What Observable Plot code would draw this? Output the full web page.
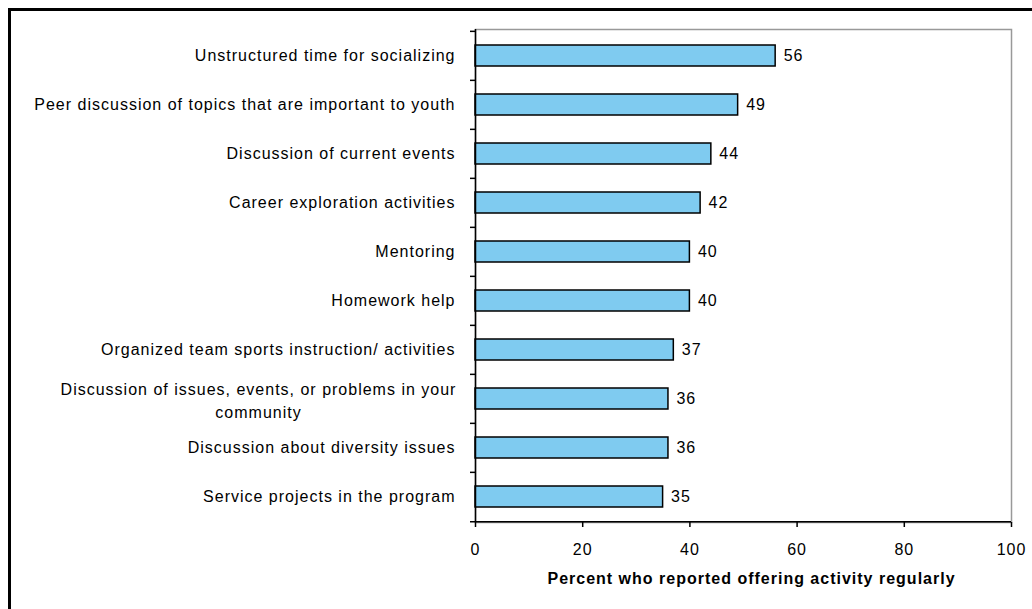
<!DOCTYPE html>
<html>
<head>
<meta charset="utf-8">
<script src="https://cdn.jsdelivr.net/npm/d3@7"></script>
<script src="https://cdn.jsdelivr.net/npm/@observablehq/plot@0.6"></script>
<style>
  html, body { margin: 0; padding: 0; background: white; overflow: hidden; }
  #wrap { position: relative; width: 1032px; height: 609px; overflow: hidden; }
  #border { position: absolute; left: 8px; top: 8px; width: 1100px; height: 700px; border: 3px solid black; box-sizing: border-box; pointer-events: none; }
  #chart { position: absolute; left: 0; top: 0; }
</style>
</head>
<body>
<div id="wrap">
  <div id="chart"></div>
  <div id="border"></div>
</div>
<script>
const categories = [
  "Unstructured time for socializing",
  "Peer discussion of topics that are important to youth",
  "Discussion of current events",
  "Career exploration activities",
  "Mentoring",
  "Homework help",
  "Organized team sports instruction/ activities",
  "Discussion of issues, events, or problems in your community",
  "Discussion about diversity issues",
  "Service projects in the program"
];
const values = [56, 49, 44, 42, 40, 40, 37, 36, 36, 35];
const wrappedLabels = {
  "Discussion of issues, events, or problems in your community":
    "Discussion of issues, events, or problems in your\ncommunity"
};
const xTicks = [0, 20, 40, 60, 80, 100];
const xTitle = "Percent who reported offering activity regularly";

const data = categories.map((c, i) => ({label: c, value: values[i]}));

const W = 1032, H = 609;
const mt = 29, mb = 87, ml = 475, mr = 21;
const step = (H - mt - mb) / categories.length;
const font = "'Liberation Sans', Arial, Helvetica, sans-serif";

const plot = Plot.plot({
  width: W,
  height: H,
  marginTop: mt,
  marginBottom: mb,
  marginLeft: ml,
  marginRight: mr,
  style: {fontFamily: font, fontSize: "16px", letterSpacing: "1px", color: "black", background: "white", overflow: "visible"},
  x: {domain: [0, 100]},
  y: {domain: categories, paddingInner: 0.58, paddingOuter: 0.29},
  marks: [
    Plot.frame({stroke: "#999", strokeWidth: 1.5}),
    Plot.barX(data, {x: "value", y: "label", fill: "#7fcbf0", stroke: "black", strokeWidth: 1.5}),
    Plot.text(data, {x: "value", y: "label", text: d => String(d.value), textAnchor: "start", dx: 8, fill: "black"}),
    Plot.ruleX([0], {stroke: "black", strokeWidth: 1.5}),
    // y-axis ticks at band boundaries
    Plot.ruleY(categories, {y: d => d, dy: -step / 2, x1: () => 0, x2: () => 0, insetLeft: -5, stroke: "black", strokeWidth: 1.5}),
    // bottom axis line (with tick on left)
    Plot.ruleY(categories.slice(-1), {y: d => d, dy: step / 2, x1: () => 0, x2: () => 100, insetLeft: -5, stroke: "black", strokeWidth: 1.5}),
    Plot.axisY({tickSize: 0, tickPadding: 20, label: null, tickFormat: d => wrappedLabels[d] ? "" : d, fill: "black"}),
    Plot.text(Object.keys(wrappedLabels), {
      y: d => d, frameAnchor: "left", textAnchor: "middle", dx: -217,
      text: d => wrappedLabels[d], lineHeight: 1.45, fill: "black"
    }),
    Plot.axisX({ticks: xTicks, tickSize: 5, tickPadding: 16, tickFormat: d => String(d), label: null, stroke: "black", strokeWidth: 1.5, fill: "black"}),
    Plot.text([xTitle], {frameAnchor: "bottom", dy: 61, dx: 8, text: d => d, fontWeight: "bold", fill: "black"})
  ]
});
document.getElementById("chart").appendChild(plot);
</script>
</body>
</html>
